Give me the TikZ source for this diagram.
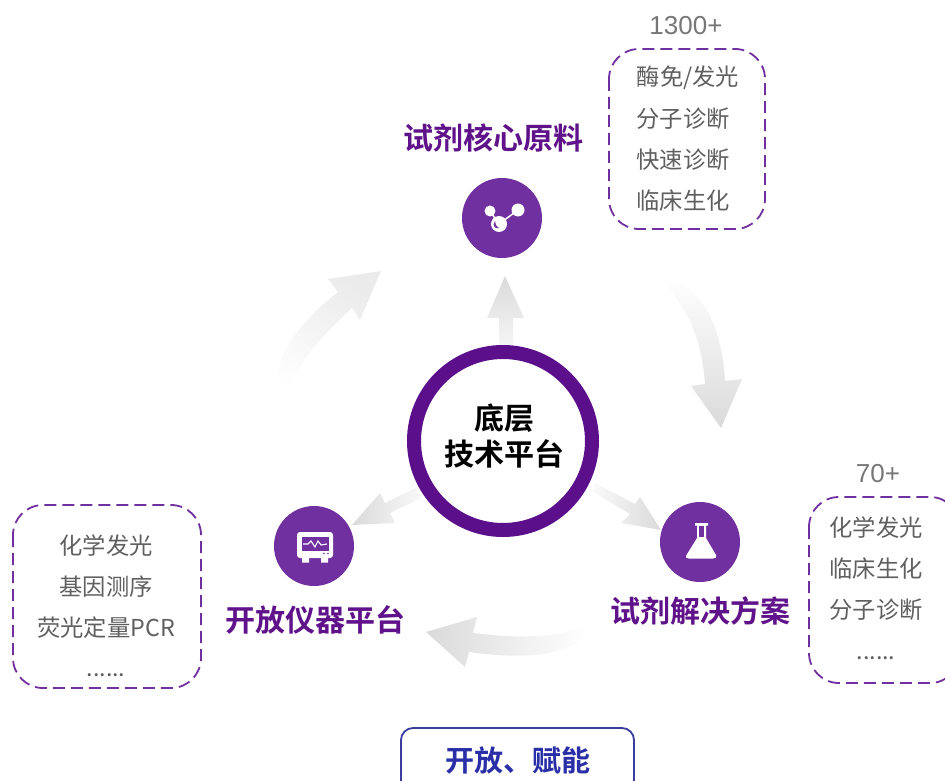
\documentclass[tikz,border=0pt]{standalone}
\usepackage{fontspec}
\setmainfont{Noto Sans CJK SC}[BoldFont={Noto Sans CJK SC Bold}]
\newfontfamily\latinf{Liberation Sans}
\definecolor{ringc}{HTML}{5B0F8B}
\definecolor{iconc}{HTML}{7030A0}
\definecolor{titlec}{HTML}{5F1289}
\definecolor{txtc}{HTML}{5F5F5F}
\definecolor{bluec}{HTML}{2A2FA8}
\definecolor{blueb}{HTML}{3A3F9E}
\definecolor{arrowc}{HTML}{DADADA}
\tikzset{x=1pt,y=-1pt,
  iconbg/.style={circle,fill=iconc,minimum size=80pt,inner sep=0pt},
  titlet/.style={font=\fontsize{30}{32}\selectfont\bfseries,text=titlec,inner sep=0pt},
  listt/.style={font=\fontsize{23.3}{26}\selectfont,text=txtc,inner sep=0pt},
  numt/.style={font=\latinf\fontsize{26}{28}\selectfont,text=txtc!85,inner sep=0pt},
  dashbox/.style={draw=iconc,line width=1.8pt,dash pattern=on 12pt off 6pt,rounded corners=30pt},
  centert/.style={font=\fontsize{30}{36}\selectfont\bfseries,text=black,align=center,inner sep=0pt},
}
\begin{document}
\begin{tikzpicture}
\useasboundingbox (0,0) rectangle (945,781);
\clip (0,0) rectangle (945,781);
% curved arrows
\shade[bottom color=white,top color=arrowc!55,shading angle=-35]
  (278,405) .. controls (268,375) and (283,335) .. (338,292)
  -- (328,279) -- (381,271) -- (360,320) -- (352,308)
  .. controls (312,345) and (290,372) .. (287,405) -- cycle;
\shade[top color=white,bottom color=arrowc]
  (657,277) .. controls (705,283) and (722,330) .. (725,381)
  -- (742,379) -- (721,428) -- (691,386) -- (705,384)
  .. controls (702,345) and (692,310) .. (657,277) -- cycle;
\shade[left color=arrowc,right color=white]
  (588,622) .. controls (570,636) and (530,640) .. (473,633)
  -- (477,617) -- (426,632) -- (465,667) -- (469,652)
  .. controls (525,660) and (565,655) .. (582,638) -- cycle;
% straight arrows
\shade[bottom color=arrowc!25,top color=arrowc]
  (499,346) -- (499,318) -- (487,318) -- (505,276) -- (524,318) -- (513,318) -- (513,346) -- cycle;
\shade[right color=arrowc!15,left color=arrowc]
  (422,498) -- (390,513) -- (395,523) -- (352,525) -- (380,493) -- (385,503) -- (415,488) -- cycle;
\shade[left color=arrowc!15,right color=arrowc]
  (593,492) -- (630,514) -- (621,523) -- (661,530) -- (640,497) -- (635,504) -- (595,483) -- cycle;
% centre
\node[circle,draw=ringc,line width=14pt,fill=white,minimum size=178pt,inner sep=0pt] (core) at (503,441) {};
\node[centert] (coret) at (504,436) {底层\\技术平台};
% icon circles
\node[iconbg] (ma) at (502,218) {};
\node[iconbg] (ins) at (314,546) {};
\node[iconbg] (sol) at (700,542) {};
% molecule icon
\draw[white,line width=1.5pt] (490,211) -- (499,224) -- (518,210);
\fill[white] (490,211) circle (5.5pt) (518,210) circle (6.5pt) (499,224) circle (8pt);
\fill[iconc] (496,228) .. controls (493,226) and (493,223) .. (495,221) .. controls (495,224) and (496,226) .. (499,228) -- cycle;
% monitor icon
\fill[white,rounded corners=3pt] (297,532) rectangle (333,558);
\fill[iconc] (301.5,537) rectangle (328.5,551);
\fill[white] (302,558) rectangle (309,562.5) (321,558) rectangle (328,562.5);
\fill[iconc] (324,553.5) circle (0.8pt) (328,553.5) circle (0.8pt);
\draw[white,line width=1.1pt] (303,544) -- (308,544) -- (311,541) -- (315,547) -- (318,541) -- (321,545) -- (327,544);
% flask icon
\fill[white] (695,523) -- (708,523) -- (708,525.5) -- (706,525.5) -- (706,538) -- (716,555) .. controls (717,558) and (715,558.5) .. (713,558.5) -- (689,558.5) .. controls (687,558.5) and (685,558) .. (686.5,555) -- (697,538) -- (697,525.5) -- (695,525.5) -- cycle;
\fill[iconc] (699,525.5) rectangle (704,537);
% titles
\node[titlet] (t1) at (493,138) {试剂核心原料};
\node[titlet] (t2) at (315,620) {开放仪器平台};
\node[titlet] (t3) at (700,611) {试剂解决方案};
% dashed boxes
\draw[dashbox] (609,49) rectangle (765,229);
\draw[dashbox] (809,497) rectangle (960,683);
\draw[dashbox] (13,505) rectangle (201,688);
% lists
\node[numt] (n1) at (686,26) {1300+};
\node[listt] (a1) at (688,78) {酶免/发光};
\node[listt] (a2) at (683,119) {分子诊断};
\node[listt] (a3) at (683,160) {快速诊断};
\node[listt] (a4) at (683,201) {临床生化};
\node[numt] (n2) at (878,474) {70+};
\node[listt] (b1) at (876,528) {化学发光};
\node[listt] (b2) at (876,569) {临床生化};
\node[listt] (b3) at (876,610) {分子诊断};
\node[listt] (b4) at (876,658) {......};
\node[listt] (c1) at (106,546) {化学发光};
\node[listt] (c2) at (106,587) {基因测序};
\node[listt] (c3) at (106,628) {荧光定量PCR};
\node[listt] (c4) at (106,675) {......};
% bottom box
\draw[draw=blueb,line width=1.8pt,rounded corners=12pt,fill=white] (401,728) rectangle (634,800);
\node[font=\fontsize{29}{30}\selectfont\bfseries,text=bluec,inner sep=0pt] (open) at (518,760) {开放、赋能};
\end{tikzpicture}
\end{document}
